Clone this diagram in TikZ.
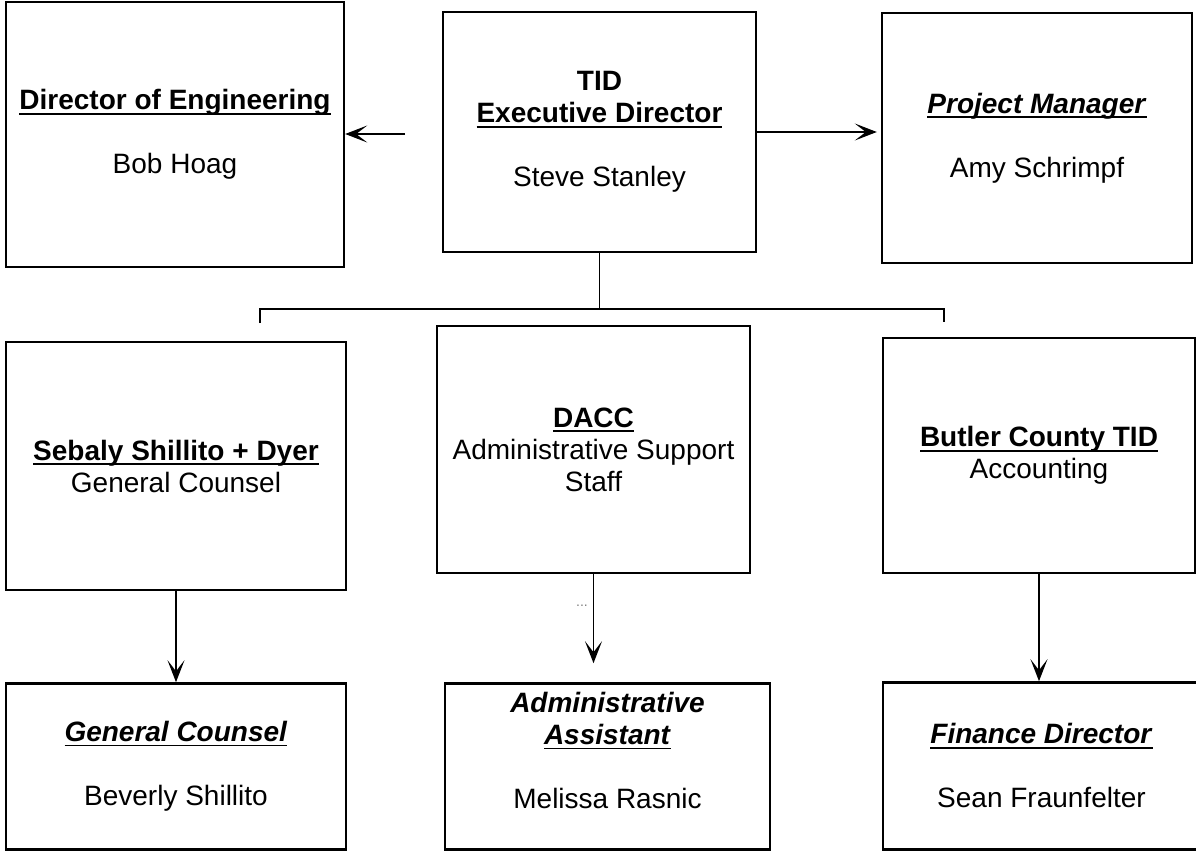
\documentclass[tikz,border=0pt]{standalone}
\usepackage{fontspec}
\setmainfont{Liberation Sans}
\usetikzlibrary{positioning, arrows.meta}

% underline set close to the baseline
\newcommand{\undl}[1]{\setbox0\hbox{#1}\rlap{\rule[-2.4pt]{\wd0}{0.9pt}}\box0}

\begin{document}
\begin{tikzpicture}[
    x=0.5pt, y=-0.5pt,
    orgbox/.style={rectangle, draw, line width=1.2pt, align=center, font=\fontsize{14}{16}\selectfont},
    arrow/.style={-{Stealth[length=11pt, width=8.5pt, inset=5.5pt]}, line width=0.9pt},
    link/.style={line width=0.9pt},
    node distance=1cm
]
\useasboundingbox (0,0) rectangle (1196,851);

% --- Top row ---
\node[orgbox, minimum width=169pt, minimum height=132.5pt] (direng) at (175,134.5)
    {\undl{\textbf{Director of Engineering}}\\[16pt] Bob Hoag};
\node[orgbox, minimum width=156.5pt, minimum height=120pt] (tid) at (599.5,132)
    {\textbf{TID}\\ \undl{\textbf{Executive Director}}\\[16pt] Steve Stanley};
\node[orgbox, minimum width=155pt, minimum height=125pt] (pm) at (1037,138)
    {\undl{\textbf{\textit{Project Manager}}}\\[16pt] Amy Schrimpf};

% --- Middle row ---
\node[orgbox, minimum width=170pt, minimum height=124pt] (sebaly) at (176,466)
    {\undl{\textbf{Sebaly Shillito + Dyer}}\\ General Counsel};
\node[orgbox, minimum width=156.5pt, minimum height=123.5pt] (dacc) at (593.5,449.5)
    {\undl{\textbf{DACC}}\\ Administrative Support\\ Staff};
\node[orgbox, minimum width=156pt, minimum height=117.5pt] (butler) at (1039,455.5)
    {\undl{\textbf{Butler County TID}}\\ Accounting};

% --- Bottom row ---
\node[orgbox, minimum width=170pt, minimum height=83pt, below=45.5pt of sebaly] (gc)
    {\undl{\textbf{\textit{General Counsel}}}\\[16pt] Beverly Shillito};
\node[orgbox, minimum width=162.5pt, minimum height=83pt, below=54pt of dacc, xshift=7pt] (assist)
    {\textbf{\textit{Administrative}}\\ \undl{\textbf{\textit{Assistant}}}\\[16pt] Melissa Rasnic\\ \mbox{}};
\node[orgbox, minimum width=158.5pt, minimum height=83.5pt, below=53.5pt of butler, xshift=1.25pt] (finance)
    {\undl{\textbf{\textit{Finance Director}}}\\[16pt] Sean Fraunfelter};

% --- Connectors ---
\coordinate (lstub) at (405,134);
\coordinate (busl) at (260,309);
\coordinate (busr) at (944,309);

\draw[arrow] (lstub) -- (direng.east |- lstub);
\draw[arrow, shorten >=2pt] (tid.east) -- (pm.west |- tid.east);

\draw[link] (tid.south) -- (tid.south |- busl);
\draw[link] ([yshift=-7pt]busl) -- (busl) -- (busr) -- ([yshift=-6.5pt]busr);

\draw[arrow] (sebaly.south) -- (gc.north);
\draw[arrow, shorten >=9.5pt] (dacc.south) -- (dacc.south |- assist.north);
\draw[arrow] (butler.south) -- (butler.south |- finance.north);

\node[font=\fontsize{7}{7}\selectfont, text=gray] (dots) at (582,606) {...};

\end{tikzpicture}
\end{document}
